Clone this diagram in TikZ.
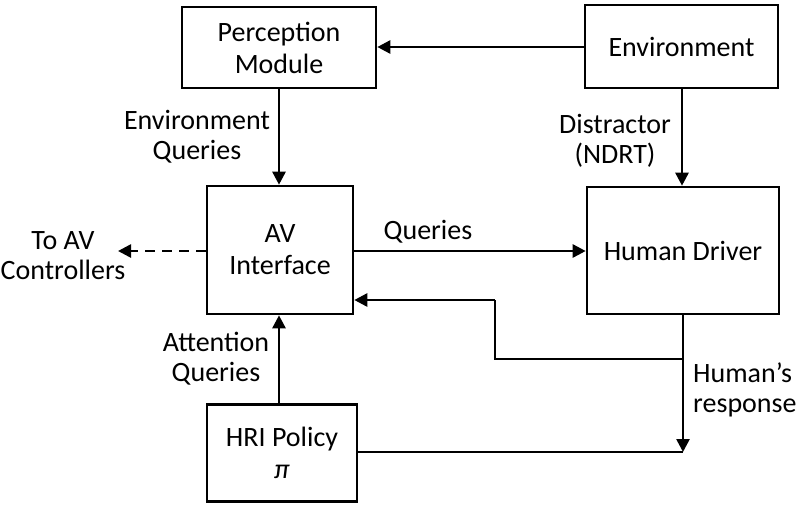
\documentclass[tikz,border=0pt]{standalone}
\usepackage{fontspec}
\setmainfont{Carlito}
\usetikzlibrary{arrows.meta}
\begin{document}
\begin{tikzpicture}[x=1pt,y=-1pt,
  box/.style={draw,line width=2.6pt,align=center,inner sep=0pt,font=\fontsize{28}{32}\selectfont},
  lbl/.style={align=center,inner sep=0pt,font=\fontsize{28}{30}\selectfont},
  arr/.style={line width=2.6pt,-{Triangle[length=13pt,width=13pt]}},
  ln/.style={line width=2.6pt}]
\useasboundingbox (0,0) rectangle (800,507);
\node[box,minimum width=194pt,minimum height=81pt] (per) at (279,47.5) {Perception\\Module};
\node[box,minimum width=193pt,minimum height=83pt] (env) at (681.5,46.5) {Environment};
\node[box,minimum width=146pt,minimum height=128pt] (av) at (280,250) {AV\\Interface};
\node[box,minimum width=192pt,minimum height=127pt] (hd) at (683,250.5) {Human Driver};
\node[box,minimum width=150pt,minimum height=97pt] (hri) at (282,453) {HRI Policy\\\textit{π}};
\coordinate (ctl) at (118,251);
\coordinate (fb1) at (683,359);
\coordinate (fb2) at (495,359);
\coordinate (fb3) at (495,300);
\coordinate (fb4) at (av.east |- fb3);
\coordinate (resp) at (683,452);

\draw[arr] (env.west |- 0,47) -- (per.east |- 0,47);
\draw[arr] (per.south -| 279,0) -- (av.north -| 279,0);
\draw[arr] (env.south -| 682,0) -- (hd.north -| 682,0);
\draw[arr] (av.east |- 0,251) -- (hd.west |- 0,251);
\draw[arr,dashed,dash pattern=on 10pt off 7pt] (av.west |- 0,251) -- (ctl);
\draw[arr] (hri.north -| 279,0) -- (av.south -| 279,0);
\draw[ln] (hd.south -| fb1) -- (fb1) -- (fb2) -- (fb3);
\draw[arr] (fb3) -- (fb4);
\draw[arr] (fb1) -- (resp);
\draw[ln] (hri.east |- resp) -- (resp);

\node[lbl] (l1) at (197,137) {Environment\\Queries};
\node[lbl] (l2) at (615,141) {Distractor\\(NDRT)};
\node[lbl] (l3) at (428,232) {Queries};
\node[lbl] (l4) at (63,256) {To AV\\Controllers};
\node[lbl] (l5) at (216,359) {Attention\\Queries};
\node[lbl,align=left,anchor=west] (l6) at (693,390) {Human’s\\response};
\end{tikzpicture}
\end{document}
